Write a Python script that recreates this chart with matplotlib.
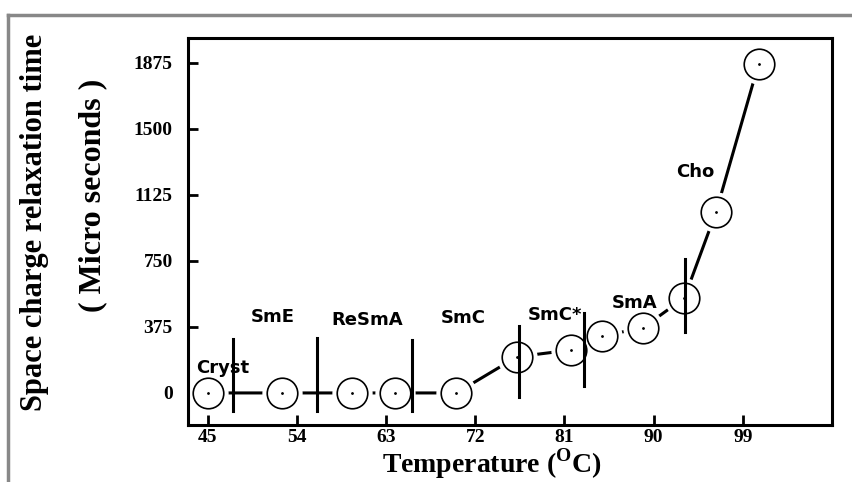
import matplotlib.pyplot as plt
from matplotlib.lines import Line2D

# measured points: temperature (C) vs relaxation time (micro s)
temps = [45, 52.5, 59.6, 63.9, 70.1, 76.2, 81.7, 84.8, 88.9, 93.1, 96.3, 100.6]
times = [0, 0, 0, 0, 0, 205, 244, 324, 369, 540, 1028, 1870]

# phase boundaries (temperature, lower end, upper end)
bound_t = [47.5, 56.0, 65.6, 76.4, 83.0, 93.2]
bound_lo = [-102, -100, -102, -23, 40, 347]
bound_hi = [307, 312, 300, 381, 455, 761]

# phase names and where they sit
phase_names = ["Cryst", "SmE", "ReSmA", "SmC", "SmC*", "SmA", "Cho"]
phase_t = [46.5, 51.6, 61.1, 70.8, 80.0, 88.1, 94.2]
phase_v = [142, 432, 415, 426, 443, 511, 1256]

xticks = [45, 54, 63, 72, 81, 90, 99]
yticks = [0, 375, 750, 1125, 1500, 1875]

plt.rcParams['mathtext.fontset'] = 'custom'
plt.rcParams['mathtext.rm'] = 'Liberation Serif:bold'
plt.rcParams['mathtext.bf'] = 'Liberation Serif:bold'

fig = plt.figure(figsize=(8.52, 4.82), dpi=100)
ax = fig.add_axes([188/852, 57/482, 644/852, 387/482])

# line first, then white halos so the line stops short of each circle
ax.plot(temps, times, color='black', lw=2.2, zorder=1)
ax.plot(temps, times, ls='none', marker='o', ms=29, mfc='white', mec='none', zorder=2)
ax.plot(temps, times, ls='none', marker='o', ms=22, mfc='white', mec='black', mew=1.2, zorder=3)
ax.plot(temps, times, ls='none', marker='.', ms=2, color='black', zorder=5)

for t, lo, hi in zip(bound_t, bound_lo, bound_hi):
    ax.plot([t, t], [lo, hi], color='black', lw=2.2, zorder=4)

for name, t, v in zip(phase_names, phase_t, phase_v):
    ax.text(t, v, name, ha='center', va='center', fontsize=13,
            fontweight='bold', family='DejaVu Sans', zorder=6)

ax.set_xlim(43, 108)
ax.set_ylim(-182, 2015)
ax.set_xticks(xticks)
ax.set_yticks(yticks)
ax.tick_params(direction='in', length=7, width=2)
ax.tick_params(axis='x', pad=3)
ax.tick_params(axis='y', pad=11)
for lab in ax.get_xticklabels() + ax.get_yticklabels():
    lab.set_family('Liberation Serif')
    lab.set_fontweight('bold')
    lab.set_fontsize(14)
for sp in ax.spines.values():
    sp.set_linewidth(2.2)

fig.text(492/852, 1 - 473/482, r'Temperature ($^{\mathrm{O}}$C)', ha='center', va='baseline',
         fontsize=20, fontweight='bold', family='Liberation Serif')
fig.text(35/852, 1 - 222/482, 'Space charge relaxation time', rotation=90,
         ha='center', va='center', fontsize=22, fontweight='bold', family='Liberation Serif')
fig.text(93/852, 1 - 195/482, '( Micro seconds )', rotation=90,
         ha='center', va='center', fontsize=23, fontweight='bold', family='Liberation Serif')

# grey frame round the picture
fig.add_artist(Line2D([8/852, 1], [1 - 15/482, 1 - 15/482], color='#888888', lw=2.5))
fig.add_artist(Line2D([8/852, 8/852], [0, 1 - 15/482], color='#888888', lw=2.5))

fig.savefig('out.png', dpi=100)
